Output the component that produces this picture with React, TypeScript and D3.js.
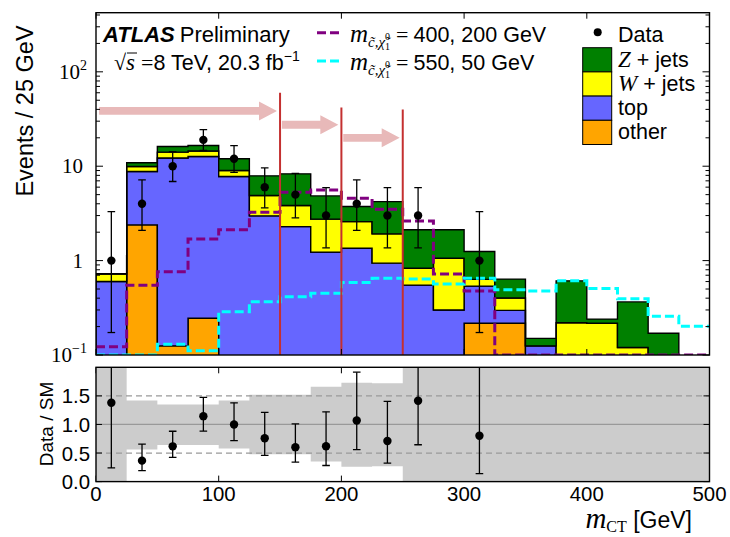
import React from 'react';
import * as d3 from 'd3';

// m_CT histogram, 25 GeV bins
const binLow = [0, 25, 50, 75, 100, 125, 150, 175, 200, 225, 250, 275, 300, 325, 350, 375, 400, 425, 450, 475];
const binWidth = 25;

// stacked backgrounds (events per bin), bottom to top
const other = [0, 2.39, 0.125, 0.245, 0, 0, 0, 0, 0, 0, 0, 0, 0.217, 0.217, 0, 0, 0, 0, 0, 0];
const topQuark = [0.6, 6.4, 12.08, 12.45, 7.78, 2.98, 2.29, 1.23, 1.35, 0.94, 0.55, 0.3, 0.32, 0.08, 0.125, 0.04, 0.03, 0.02, 0.01, 0];
const wJets = [0.12, 1.14, 1.9, 1.8, 1.22, 1.91, 1.54, 1.52, 1.24, 0.98, 0.28, 0.76, 0.095, 0.105, 0, 0.18, 0.187, 0.1, 0.05, 0];
const zJets = [0.005, 0.97, 2.1, 2.1, 3.0, 3.02, 4.47, 2.1, 1.15, 2.3, 1.29, 1.06, 0.615, 0.235, 0.025, 0.39, 0.023, 0.245, 0.11, 0];

// observed events and 68% Poisson intervals
const dataCounts = [1, 4, 10, 19, 12, 6, 5, 3, 4, 3, 3, 0, 1, 0, 0, 0, 0, 0, 0, 0];
const dataLow = [0.173, 2.086, 6.891, 14.68, 8.589, 3.62, 2.84, 1.367, 2.086, 1.367, 1.367, 0, 0.173, 0, 0, 0, 0, 0, 0, 0];
const dataHigh = [3.3, 7.163, 14.27, 24.43, 16.55, 9.584, 8.382, 5.918, 7.163, 5.918, 5.918, 0, 3.3, 0, 0, 0, 0, 0, 0, 0];

// signal benchmarks
const sig400 = [0.122, 0.548, 0.764, 1.69, 2.12, 3.26, 5.3, 5.6, 4.58, 3.51, 2.62, 0.72, 0.477, 0.02, 0.02, 0.02, 0.02, 0.02, 0.02, 0.02];
const sig550 = [0.05, 0.05, 0.13, 0.111, 0.288, 0.367, 0.415, 0.45, 0.585, 0.65, 0.64, 0.566, 0.65, 0.49, 0.477, 0.61, 0.505, 0.395, 0.258, 0.202];

// SM uncertainty band in the ratio panel
const bandLow = [-1, 0.56, 0.64, 0.64, 0.58, 0.48, 0.48, 0.35, 0.26, 0.27, -1, -1, -1, -1, -1, -1, -1, -1, -1, -1];
const bandHigh = [3, 1.42, 1.35, 1.35, 1.42, 1.52, 1.52, 1.66, 1.73, 1.72, 3, 3, 3, 3, 3, 3, 3, 3, 3, 3];

// signal-region cuts and arrows
const cutValues = [150, 200, 250];
const cutTops = [60, 42, 40];
const arrowFrom = [2.5, 151.5, 201.5];
const arrowTo = [147.5, 197.5, 247.5];
const arrowLevel = [38.5, 27.5, 20];

const ratioTicks = [0, 0.5, 1.0, 1.5];
const logMajor = [0.1, 1, 10, 100];
const logLabels = [['10', '\u22121'], ['1', ''], ['10', ''], ['10', '2']];

const layers = [
  { key: 'other', label: 'other', color: '#ffa500' },
  { key: 'top', label: 'top', color: '#6666ff' },
  { key: 'w', label: 'W', color: '#ffff00' },
  { key: 'z', label: 'Z', color: '#008000' },
];

const SANS = "'Liberation Sans', Arial, Helvetica, sans-serif";
const SERIF = "'Liberation Serif', 'DejaVu Serif', serif";

export default function App() {
  const W = 730;
  const H = 537;
  const L = 96;
  const R = 709.5;
  const mainTop = 12.7;
  const mainBot = 355;
  const ratTop = 367.3;
  const ratBot = 481.6;

  const x = d3.scaleLinear().domain([0, 500]).range([L, R]);
  const y = d3.scaleLog().domain([0.1, 423]).range([mainBot, mainTop]);
  const yr = d3.scaleLinear().domain([0, 2]).range([ratBot, ratTop]);

  const rows = binLow.map((b, i) => ({ b, other: other[i], top: topQuark[i], w: wJets[i], z: zJets[i] }));
  const stacked = d3.stack<any>().keys(layers.map((l) => l.key))(rows);
  const smTotal = rows.map((r) => r.other + r.top + r.w + r.z);

  const clampY = (v: number) => y(Math.max(v, 1e-3));

  // closed step polygon between a lower and an upper edge, per bin
  const bandPath = (lo: number[], hi: number[], sy: (v: number) => number) => {
    const topPts: [number, number][] = [];
    const botPts: [number, number][] = [];
    binLow.forEach((b, i) => {
      topPts.push([x(b), sy(hi[i])], [x(b + binWidth), sy(hi[i])]);
      botPts.push([x(b), sy(lo[i])], [x(b + binWidth), sy(lo[i])]);
    });
    return d3.line()(topPts.concat(botPts.reverse())) + 'Z';
  };

  const stepPath = (vals: number[]) => {
    const pts: [number, number][] = [];
    vals.forEach((v, i) => {
      const yy = y(Math.max(v, 0.1));
      pts.push([x(binLow[i]), yy], [x(binLow[i] + binWidth), yy]);
    });
    return d3.line()(pts) || '';
  };

  const logTicks = y.ticks().filter((t) => t >= 0.1 && t <= 423);
  const xTicks = x.ticks(5);

  const arrowPoly = (i: number) => {
    const x0 = x(arrowFrom[i]);
    const x1 = x(arrowTo[i]);
    const yc = y(arrowLevel[i]);
    const sh = 3.9;
    const hh = 9.5;
    const hl = 18;
    return [
      [x0, yc - sh], [x1 - hl, yc - sh], [x1 - hl, yc - hh], [x1, yc],
      [x1 - hl, yc + hh], [x1 - hl, yc + sh], [x0, yc + sh],
    ].map((p) => p.join(',')).join(' ');
  };

  const centers = binLow.map((b) => b + binWidth / 2);
  const capW = 3.8;

  return (
    <svg width={W} height={H} style={{ position: 'absolute', left: 0, top: 0, background: '#fff' }}
      fontFamily={SANS}>
      <defs>
        <clipPath id="mainClip">
          <rect x={L} y={mainTop} width={R - L} height={mainBot - mainTop} />
        </clipPath>
        <clipPath id="ratClip">
          <rect x={L} y={ratTop} width={R - L} height={ratBot - ratTop} />
        </clipPath>
      </defs>
      <rect x={0} y={0} width={W} height={H} fill="#fff" />

      {/* ---------- main panel ---------- */}
      <g clipPath="url(#mainClip)">
        {stacked.map((s: any, li: number) => (
          <path key={layers[li].key}
            d={bandPath(s.map((d: any) => d[0]), s.map((d: any) => d[1]), clampY)}
            fill={layers[li].color} stroke="#000" strokeWidth={1.4} strokeLinejoin="miter" />
        ))}
        <path d={stepPath(sig400)} fill="none" stroke="#800080" strokeWidth={3} strokeDasharray="9 4" />
        <path d={stepPath(sig550)} fill="none" stroke="#00ffff" strokeWidth={3} strokeDasharray="9 4" />
        {/* arrows and cut lines */}
        {arrowFrom.map((_, i) => (
          <polygon key={'ar' + i} points={arrowPoly(i)} fill="#e8b9b9" />
        ))}
        {cutValues.map((c, i) => (
          <line key={'cut' + i} x1={x(c)} x2={x(c)} y1={y(cutTops[i])} y2={mainBot}
            stroke="#c43030" strokeWidth={2} />
        ))}
        {/* data */}
        {dataCounts.map((n, i) => n > 0 && (
          <g key={'d' + i}>
            <line x1={x(centers[i])} x2={x(centers[i])} y1={y(dataLow[i])} y2={y(dataHigh[i])} stroke="#000" strokeWidth={1.3} />
            <line x1={x(centers[i]) - capW} x2={x(centers[i]) + capW} y1={y(dataLow[i])} y2={y(dataLow[i])} stroke="#000" strokeWidth={1.3} />
            <line x1={x(centers[i]) - capW} x2={x(centers[i]) + capW} y1={y(dataHigh[i])} y2={y(dataHigh[i])} stroke="#000" strokeWidth={1.3} />
            <circle cx={x(centers[i])} cy={y(n)} r={4.2} fill="#000" />
          </g>
        ))}
      </g>

      {/* main frame and ticks */}
      <rect x={L} y={mainTop} width={R - L} height={mainBot - mainTop} fill="none" stroke="#000" strokeWidth={1.4} />
      {logTicks.map((t, i) => {
        const major = logMajor.some((m) => Math.abs(m - t) < 1e-9);
        const len = major ? 7 : 4;
        return (
          <g key={'lt' + i}>
            <line x1={L} x2={L + len} y1={y(t)} y2={y(t)} stroke="#000" strokeWidth={1} />
            <line x1={R} x2={R - len} y1={y(t)} y2={y(t)} stroke="#000" strokeWidth={1} />
          </g>
        );
      })}
      {xTicks.map((t, i) => (
        <g key={'xt' + i}>
          <line x1={x(t)} x2={x(t)} y1={mainTop} y2={mainTop + 6} stroke="#000" strokeWidth={1} />
          <line x1={x(t)} x2={x(t)} y1={mainBot} y2={mainBot - 6} stroke="#000" strokeWidth={1} />
          <line x1={x(t)} x2={x(t)} y1={ratTop} y2={ratTop + 6} stroke="#000" strokeWidth={1} />
          <line x1={x(t)} x2={x(t)} y1={ratBot} y2={ratBot - 6} stroke="#000" strokeWidth={1} />
          <text x={x(t)} y={501} fontSize={20.4} textAnchor="middle">{t}</text>
        </g>
      ))}
      {logMajor.map((t, i) => {
        const [base, exp] = logLabels[i];
        const anchor = exp ? 87 : 83;
        return (
          <text key={'ll' + i} x={anchor} y={y(t) + 7} fontSize={21} textAnchor="end" fontFamily={SERIF}>
            {base}
            {exp && <tspan fontSize={14} dy={-9}>{exp}</tspan>}
          </text>
        );
      })}
      <text transform={`translate(33,${111}) rotate(-90)`} fontSize={23.5} textAnchor="middle">Events / 25 GeV</text>

      {/* ATLAS label */}
      <text x={103} y={42} fontSize={22}>
        <tspan fontWeight="bold" fontStyle="italic">ATLAS</tspan>
        <tspan dx={5}>Preliminary</tspan>
      </text>
      <text x={114} y={70} fontSize={21.5}>
        <tspan fontFamily={SERIF} fontSize={22}>{'\u221A'}</tspan>
        <tspan fontFamily={SERIF} fontStyle="italic" fontSize={23}>s</tspan>
        <tspan fontFamily={SERIF} fontSize={22} dx={6}>=</tspan>
        <tspan>8 TeV, 20.3 fb</tspan>
        <tspan fontSize={14} dy={-9}>{'\u22121'}</tspan>
      </text>
      <line x1={127} x2={137} y1={53} y2={53} stroke="#000" strokeWidth={1} />

      {/* signal legend */}
      {[['#800080', '400, 200 GeV', 32.7], ['#00ffff', '550, 50 GeV', 61]].map(([c, lab, yy], i) => (
        <g key={'sl' + i}>
          <line x1={317} x2={339} y1={yy as number} y2={yy as number} stroke={c as string} strokeWidth={3} strokeDasharray="9 4" />
          <text x={350} y={(yy as number) + 9} fontSize={21.5}>
            <tspan fontFamily={SERIF} fontStyle="italic" fontSize={25}>m</tspan>
            <tspan fontFamily={SERIF} fontStyle="italic" fontSize={15} dy={5}>{'c\u0303,\u03C7\u0303'}</tspan>
            <tspan fontFamily={SERIF} fontSize={10} dy={3}>1</tspan>
            <tspan fontFamily={SERIF} fontSize={10} dx={-5} dy={-10}>0</tspan>
            <tspan fontFamily={SERIF} fontSize={22} dx={6} dy={2}>=</tspan>
            <tspan dx={5}>{lab}</tspan>
          </text>
        </g>
      ))}

      {/* background legend */}
      <circle cx={597.7} cy={32.3} r={4} fill="#000" />
      <text x={618} y={41.7} fontSize={21.5}>Data</text>
      {[...layers].reverse().map((l, i) => {
        const by = 47.7 + i * 24.2;
        return (
          <g key={'lg' + i}>
            <rect x={582.7} y={by} width={29} height={24.2} fill={l.color} stroke="#000" strokeWidth={1} />
            <text x={618} y={by + 19} fontSize={21.5}>
              {l.key === 'z' || l.key === 'w' ? (
                <>
                  <tspan fontFamily={SERIF} fontStyle="italic" fontSize={23}>{l.label}</tspan>
                  <tspan> + jets</tspan>
                </>
              ) : l.label}
            </text>
          </g>
        );
      })}

      {/* ---------- ratio panel ---------- */}
      <g clipPath="url(#ratClip)">
        <path d={bandPath(bandLow, bandHigh, yr)} fill="#cccccc" stroke="none" />
        <line x1={L} x2={R} y1={yr(1)} y2={yr(1)} stroke="#999" strokeWidth={1.2} />
        <line x1={L} x2={R} y1={yr(0.5)} y2={yr(0.5)} stroke="#999" strokeWidth={1.2} strokeDasharray="6 4" />
        <line x1={L} x2={R} y1={yr(1.5)} y2={yr(1.5)} stroke="#999" strokeWidth={1.2} strokeDasharray="6 4" />
        {dataCounts.map((n, i) => n > 0 && (
          <g key={'r' + i}>
            <line x1={x(centers[i])} x2={x(centers[i])} y1={yr(dataLow[i] / smTotal[i])} y2={yr(dataHigh[i] / smTotal[i])} stroke="#000" strokeWidth={1.3} />
            <line x1={x(centers[i]) - capW} x2={x(centers[i]) + capW} y1={yr(dataLow[i] / smTotal[i])} y2={yr(dataLow[i] / smTotal[i])} stroke="#000" strokeWidth={1.3} />
            <line x1={x(centers[i]) - capW} x2={x(centers[i]) + capW} y1={yr(dataHigh[i] / smTotal[i])} y2={yr(dataHigh[i] / smTotal[i])} stroke="#000" strokeWidth={1.3} />
            <circle cx={x(centers[i])} cy={yr(n / smTotal[i])} r={4.2} fill="#000" />
          </g>
        ))}
      </g>
      <rect x={L} y={ratTop} width={R - L} height={ratBot - ratTop} fill="none" stroke="#000" strokeWidth={1.4} />
      {ratioTicks.map((t, i) => (
        <g key={'rt' + i}>
          <line x1={L} x2={L + 6} y1={yr(t)} y2={yr(t)} stroke="#000" strokeWidth={1} />
          <line x1={R} x2={R - 6} y1={yr(t)} y2={yr(t)} stroke="#000" strokeWidth={1} />
          <text x={90} y={yr(t) + 7.5} fontSize={20.4} textAnchor="end">{t.toFixed(1)}</text>
        </g>
      ))}
      <text transform={`translate(53,${424}) rotate(-90)`} fontSize={19} textAnchor="middle">Data / SM</text>

      <text x={692} y={528} fontSize={23} textAnchor="end">
        <tspan fontFamily={SERIF} fontStyle="italic" fontSize={29}>m</tspan>
        <tspan fontFamily={SERIF} fontSize={16} dy={4}>CT</tspan>
        <tspan dy={-4}> [GeV]</tspan>
      </text>
    </svg>
  );
}
